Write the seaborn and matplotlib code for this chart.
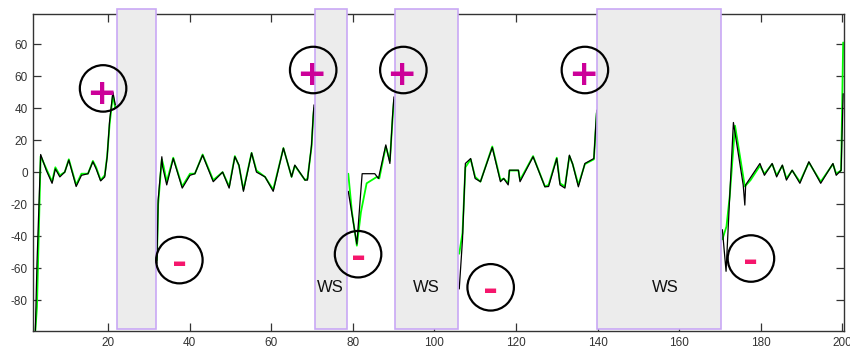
import numpy as np
import pandas as pd
import matplotlib
matplotlib.use("Agg")
import matplotlib.pyplot as plt
import seaborn as sns

nan = np.nan
# ---- data ----
black_x = [2.2, 2.6, 3.5, 4.9, 6.3, 7.1, 8.2, 9.4, 10.4, 12.2, 13.5, 15.1, 16.3, 17.1, 18.2, 19.2, 19.8, 20.4, 21.2, 21.8, nan,
           32.0, 32.3, 33.2, 33.4, 34.4, 36.0, 38.2, 40.1, 41.3, 43.2, 45.8, 48.1, 49.7, 51.1, 52.1, 53.2, 55.2, 56.4, 58.5, 60.5,
           63.0, 65.0, 65.8, 68.3, 68.9, 69.9, 70.3, 70.5, nan,
           78.9, 81.0, 82.3, 85.4, 86.3, 88.1, 89.1, 89.8, 90.1, nan,
           106.1, 106.9, 107.6, 108.9, 110.0, 111.3, 114.2, 116.2, 117.0, 118.1, 118.4, 120.6, 121.0, 124.2, 127.1, 128.0,
           130.0, 130.8, 132.0, 133.1, 133.9, 135.3, 136.9, 139.1, 139.5, 139.8, nan,
           170.6, 171.5, 172.4, 173.3, 175.7, 176.1, 176.3, 179.8, 180.9, 182.8, 183.9, 185.3, 186.3, 187.7, 189.6, 191.8,
           194.7, 197.7, 198.5, 199.7, 200.2]
black_y = [-99, -57, 11, 1, -7, 2, -3, 0, 7.5, -9, -2, -1, 6.5, 2, -5.5, -3, 9.5, 32, 50, 42, nan,
           -57, -17.5, 9.6, 3.3, -8, 8.5, -10, -2, -1, 10.6, -6, 0, -10, 9.6, 4.4, -12, 12, 0, -3, -12,
           15, -3, 4.4, -5, -5, 17, 35, 42, nan,
           -12, -45, -1, -1, -4, 17, 5.4, 37, 47, nan,
           -73, -42, 5.4, 8.5, -4, -6, 15.4, -6, -4, -8, 1.2, 1.2, -6, 9.6, -9.2, -9,
           8.5, -8, -10, 10.6, 5, -9.2, 5.4, 8.5, 26, 38.7, nan,
           -36, -62, -15, 31, -8, -20.6, -8, 5.4, -2, 5.4, -3, 4.4, -5, 1.2, -7, 6.5,
           -7, 5.4, -2, 1.2, 49]

green_x = [2.2, 2.6, 3.5, 4.9, 6.3, 7.1, 8.2, 9.4, 10.4, 12.2, 13.5, 15.1, 16.3, 17.1, 18.2, 19.2, 19.8, 20.4, 21.2, 21.8, nan,
           32.0, 32.3, 33.2, 33.6, 34.4, 36.0, 38.2, 40.1, 41.3, 43.2, 45.8, 48.1, 49.7, 51.1, 52.1, 53.2, 55.2, 56.4, 58.5, 60.5,
           63.0, 65.0, 65.8, 68.3, 68.9, 69.9, 70.3, 70.5, nan,
           78.9, 79.8, 81.0, 82.0, 83.4, 85.9, 86.5, 88.1, 89.1, 89.8, 90.1, nan,
           106.1, 106.9, 107.6, 108.9, 110.0, 111.3, 114.2, 116.2, 117.0, 118.1, 118.4, 120.6, 121.0, 124.2, 127.1, 128.0,
           130.0, 130.8, 132.0, 133.1, 133.9, 135.3, 136.9, 139.1, 139.5, 139.8, nan,
           170.6, 171.6, 172.4, 173.7, 176.1, 177.5, 179.8, 180.9, 182.8, 183.9, 185.3, 186.3, 187.7, 189.6, 191.8,
           194.7, 197.7, 198.5, 199.7, 200.2]
green_y = [-99, -84, 10, 2, -6, 3, -2, 0, 8, -8, -1, -1, 7, 3, -5, -2, 10, 30, 48, 40, nan,
           -55, -20, 8, 4, -6, 9, -9, -1, -1, 11, -5, 0, -9, 10, 4, -11, 12, 1, -3, -11,
           15, -3, 4, -5, -4, 16, 34, 40, nan,
           -1, -25, -46, -25, -7, -3, -4, 16, 7, 35, 45, nan,
           -51, -38, 3, 8, -3, -6, 16, -5, -4, -7, 1, 1, -5, 10, -9, -8,
           9, -7, -9, 10, 5, -8, 5, 8, 25, 37, nan,
           -42, -34, -15, 29, -9, -5, 4, -1, 5, -2, 4, -4, 1, -6, 6,
           -6, 5, -1, 1, 81]

ws_start = [22.2, 70.7, 90.3, 139.8]
ws_end = [31.8, 78.5, 105.8, 170.2]
ws_label_x = [74.6, 98.0, 156.5]
ws_label_y = [-72, -72, -72]
ws_labels = ["WS", "WS", "WS"]

plus_x = [18.8, 70.3, 92.4, 136.9]
plus_y = [52.3, 63.8, 63.8, 63.8]
minus_x = [37.5, 81.3, 113.8, 177.6]
minus_y = [-55, -51.3, -72, -54]

xticks = [20, 40, 60, 80, 100, 120, 140, 160, 180, 200]
xtick_labels = ["20", "40", "60", "80", "100", "120", "140", "160", "180", "200"]
yticks = [80, 60, 40, 20, 0, -20, -40, -60, -80]
ytick_labels = ["60", "60", "40", "20", "0", "-20", "-40", "-60", "-80"]


def to_frame(xs, ys):
    df = pd.DataFrame({"x": xs, "y": ys})
    df["seg"] = df["x"].isna().cumsum()
    return df.dropna().reset_index(drop=True)


sns.set_style("ticks")
plt.rcParams["font.family"] = ["Liberation Sans", "DejaVu Sans"]

fig = plt.figure(figsize=(8.5, 3.5), dpi=100)
ax = fig.add_axes([0.0392, 0.0529, 0.9537, 0.9071])

gdf = to_frame(green_x, green_y)
bdf = to_frame(black_x, black_y)
sns.lineplot(data=gdf, x="x", y="y", units="seg", estimator=None, sort=False,
             color="#00FF00", linewidth=1.3, ax=ax, zorder=2)
sns.lineplot(data=bdf, x="x", y="y", units="seg", estimator=None, sort=False,
             color="black", linewidth=0.9, ax=ax, zorder=2.1)

for s, e in zip(ws_start, ws_end):
    ax.axvspan(s, e, ymin=0.007, ymax=1.015, facecolor="#ECECEC",
               edgecolor="#C9A8F5", linewidth=1.2, zorder=3, clip_on=False)

for lx, ly, lab in zip(ws_label_x, ws_label_y, ws_labels):
    ax.text(lx, ly, lab, ha="center", va="center", fontsize=12, color="#111111", zorder=6)

ax.scatter(plus_x + minus_x, plus_y + minus_y, s=1120, marker="o", facecolors="none",
           edgecolors="black", linewidths=1.6, zorder=5, clip_on=False)
for px_, py_ in zip(plus_x, plus_y):
    ax.text(px_ - 0.4, py_ - 1.2, "+", ha="center", va="center_baseline", fontsize=26,
            fontweight="bold", family="DejaVu Sans", color="#CC0099", zorder=6)
for mx_, my_ in zip(minus_x, minus_y):
    ax.text(mx_, my_, "-", ha="center", va="center_baseline", fontsize=26,
            fontweight="bold", family="DejaVu Sans", color="#F5166C", zorder=6)

ax.set_xlim(1.7, 200.4)
ax.set_ylim(-99.6, 98.8)
ax.set_xticks(xticks)
ax.set_xticklabels(xtick_labels)
ax.set_yticks(yticks)
ax.set_yticklabels(ytick_labels)
ax.set_xlabel("")
ax.set_ylabel("")
ax.tick_params(direction="in", length=5.5, width=0.9, color="#333333",
               labelsize=8.5, labelcolor="#333333", pad=4,
               top=True, right=True)
for sp in ax.spines.values():
    sp.set_visible(True)
    sp.set_color("#333333")
    sp.set_linewidth(1.0)
ax.grid(False)

fig.savefig("out.png", dpi=100)
